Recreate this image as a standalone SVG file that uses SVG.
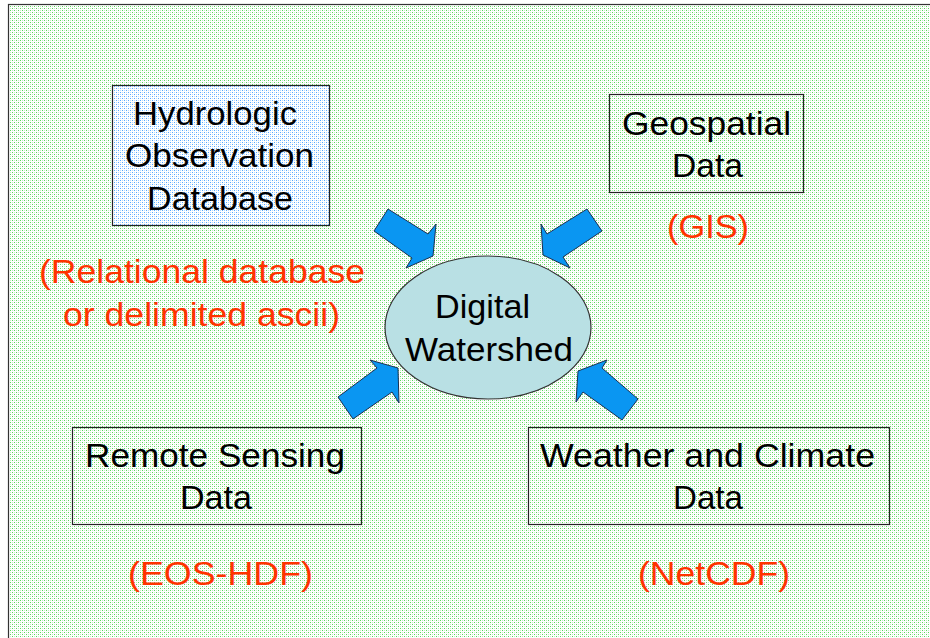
<svg xmlns="http://www.w3.org/2000/svg" width="930" height="638" viewBox="0 0 930 638">
<defs>
<pattern id="bgdots" x="0" y="0" width="4" height="4" patternUnits="userSpaceOnUse">
<rect width="4" height="4" fill="#ffffff"/>
<rect x="0" y="0" width="1" height="1" fill="#5cd65c"/>
<rect x="2" y="2" width="1" height="1" fill="#5cd65c"/>
<rect x="2" y="0" width="1" height="1" fill="#c4efc4"/>
<rect x="0" y="2" width="1" height="1" fill="#c4efc4"/>
</pattern>
<pattern id="bluedots" x="0" y="0" width="4" height="4" patternUnits="userSpaceOnUse">
<rect width="4" height="4" fill="#ffffff"/>
<rect x="0" y="0" width="1" height="1" fill="#55aaff"/>
<rect x="2" y="2" width="1" height="1" fill="#55aaff"/>
<rect x="2" y="0" width="1" height="1" fill="#b8dcff"/>
<rect x="0" y="2" width="1" height="1" fill="#b8dcff"/>
</pattern>
</defs>
<style>
.box{fill:none;stroke:#222;stroke-width:1.2}
.t{font-family:"Liberation Sans",Arial,sans-serif;font-size:33px;fill:#000;text-anchor:middle}
.r{font-family:"Liberation Sans",Arial,sans-serif;font-size:33px;fill:#ff3300;text-anchor:middle}
.arr{fill:#0a96f2;stroke:#1a3050;stroke-width:1}
</style>
<rect x="0" y="0" width="930" height="638" fill="#ffffff"/>
<rect x="8.5" y="4.5" width="940" height="650" fill="url(#bgdots)" stroke="#333" stroke-width="1.2"/>

<g id="connectors">
<polygon class="arr" points="374,231 388,209 428,234 436,224 433,256 406,268 412,258"/>
<polygon class="arr" points="587,209 602,231 563,257 570,268 543,255 541,224 547,234"/>
<polygon class="arr" points="338,397 377,368 370,360 398,368 399,403 392,392 353,419"/>
<polygon class="arr" points="638,399 602,368 607,360 578,371 576,402 583,392 622,420"/>
</g>

<g id="hydrologic">
<rect x="112.5" y="85.5" width="217" height="140" fill="url(#bluedots)" stroke="#222" stroke-width="1.2"/>
<text class="t" x="215" y="125" textLength="164" lengthAdjust="spacingAndGlyphs">Hydrologic</text>
<text class="t" x="219.5" y="167" textLength="189" lengthAdjust="spacingAndGlyphs">Observation</text>
<text class="t" x="220" y="210" textLength="146" lengthAdjust="spacingAndGlyphs">Database</text>
</g>
<g id="hydrologic-label">
<text class="r" x="202" y="283" textLength="326" lengthAdjust="spacingAndGlyphs">(Relational database</text>
<text class="r" x="201.5" y="326" textLength="277" lengthAdjust="spacingAndGlyphs">or delimited ascii)</text>
</g>

<g id="geospatial">
<rect class="box" x="609.5" y="94.5" width="194" height="98"/>
<text class="t" x="706.5" y="135" textLength="169" lengthAdjust="spacingAndGlyphs">Geospatial</text>
<text class="t" x="707.5" y="177" textLength="71" lengthAdjust="spacingAndGlyphs">Data</text>
</g>
<g id="geospatial-label">
<text class="r" x="708" y="238" textLength="82" lengthAdjust="spacingAndGlyphs">(GIS)</text>
</g>

<g id="watershed">
<ellipse cx="488" cy="327.5" rx="103" ry="71.5" fill="#b9e0e4" stroke="#333" stroke-width="1.2"/>
<text class="t" x="482.5" y="318" textLength="95" lengthAdjust="spacingAndGlyphs">Digital</text>
<text class="t" x="489" y="361" textLength="168" lengthAdjust="spacingAndGlyphs">Watershed</text>
</g>

<g id="remote">
<rect class="box" x="72.5" y="427.5" width="289" height="97"/>
<text class="t" x="215" y="467" textLength="260" lengthAdjust="spacingAndGlyphs">Remote Sensing</text>
<text class="t" x="216" y="509" textLength="72" lengthAdjust="spacingAndGlyphs">Data</text>
</g>
<g id="remote-label">
<text class="r" x="220.5" y="585" textLength="185" lengthAdjust="spacingAndGlyphs">(EOS-HDF)</text>
</g>

<g id="weather">
<rect class="box" x="528.5" y="427.5" width="361" height="97"/>
<text class="t" x="707.5" y="467" textLength="335" lengthAdjust="spacingAndGlyphs">Weather and Climate</text>
<text class="t" x="708" y="509" textLength="70" lengthAdjust="spacingAndGlyphs">Data</text>
</g>
<g id="weather-label">
<text class="r" x="714" y="585" textLength="152" lengthAdjust="spacingAndGlyphs">(NetCDF)</text>
</g>
</svg>
